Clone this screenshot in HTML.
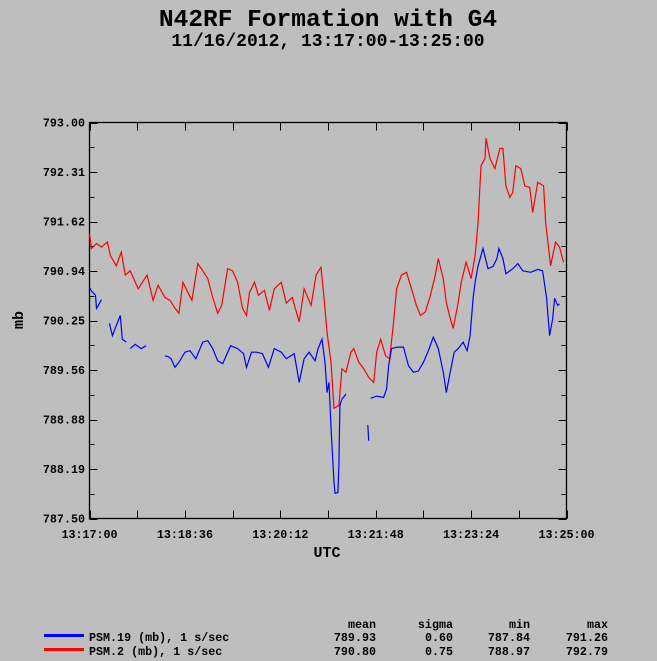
<!DOCTYPE html>
<html><head><meta charset="utf-8"><style>
html,body{margin:0;padding:0;background:#bebebe;}
svg{display:block;}
text{font-family:"Liberation Mono",monospace;font-weight:bold;fill:#000;}
</style></head><body>
<svg id="chart" width="657" height="661" viewBox="0 0 657 661" xmlns="http://www.w3.org/2000/svg">
<rect width="657" height="661" fill="#bebebe"/>
<text x="328" y="26" font-size="24.5" text-anchor="middle">N42RF Formation with G4</text>
<text x="328" y="46" font-size="18" text-anchor="middle">11/16/2012, 13:17:00-13:25:00</text>
<g id="axes"></g>
<g id="series"></g>
<text x="327" y="557" font-size="15" text-anchor="middle">UTC</text>
<text x="0" y="0" font-size="15" text-anchor="middle" transform="translate(23,320) rotate(-90)">mb</text>
<g font-size="11.7">
<text x="376" y="628" text-anchor="end">mean</text>
<text x="453" y="628" text-anchor="end">sigma</text>
<text x="530" y="628" text-anchor="end">min</text>
<text x="608" y="628" text-anchor="end">max</text>
<line x1="44" y1="635.5" x2="84" y2="635.5" stroke="#0000ff" stroke-width="3"/>
<text x="89" y="641">PSM.19 (mb), 1 s/sec</text>
<text x="376" y="641" text-anchor="end">789.93</text>
<text x="453" y="641" text-anchor="end">0.60</text>
<text x="530" y="641" text-anchor="end">787.84</text>
<text x="608" y="641" text-anchor="end">791.26</text>
<line x1="44" y1="649.5" x2="84" y2="649.5" stroke="#ff0000" stroke-width="3"/>
<text x="89" y="655">PSM.2 (mb), 1 s/sec</text>
<text x="376" y="655" text-anchor="end">790.80</text>
<text x="453" y="655" text-anchor="end">0.75</text>
<text x="530" y="655" text-anchor="end">788.97</text>
<text x="608" y="655" text-anchor="end">792.79</text>
</g>
</svg>
<script>
const yTickLabels = ["793.00","792.31","791.62","790.94","790.25","789.56","788.88","788.19","787.50"];
const xTickLabels = ["13:17:00","13:18:36","13:20:12","13:21:48","13:23:24","13:25:00"];
const redTimes = [0,2,7,12,18,21,27,32,36,41,49,58,64,69,76,81,86,90,94,103,109,114,119,124,129,133,139,144,149,154,158,161,166,170,176,181,186,193,198,204,211,216,223,228,233,236,239,243,246,251,254,258,263,266,271,276,281,286,289,293,298,302,306,309,314,319,324,329,333,338,343,348,351,356,359,363,366,371,374,379,384,388,391,394,398,399,403,408,413,416,419,423,426,429,434,438,443,446,451,457,459,464,469,473,477];
const redValues = [791.45,791.25,791.32,791.27,791.34,791.15,791.01,791.20,790.88,790.94,790.69,790.88,790.53,790.74,790.57,790.53,790.42,790.35,790.78,790.53,791.04,790.94,790.83,790.57,790.35,790.46,790.97,790.94,790.78,790.42,790.32,790.64,790.78,790.60,790.67,790.39,790.69,790.78,790.49,790.57,790.23,790.69,790.46,790.88,790.99,790.57,790.09,789.67,789.03,789.07,789.58,789.53,789.81,789.86,789.67,789.58,789.46,789.39,789.81,789.99,789.76,789.72,790.23,790.69,790.88,790.92,790.69,790.46,790.32,790.37,790.60,790.88,791.11,790.83,790.50,790.28,790.14,790.50,790.78,791.06,790.83,791.15,791.62,792.40,792.50,792.78,792.50,792.36,792.64,792.64,792.12,791.96,792.03,792.40,792.36,792.12,792.10,791.75,792.17,792.12,791.62,791.01,791.34,791.27,791.06];
const blueTimes = [0,2,6,7,9,12,null,20,23,27,31,33,37,null,41,46,52,57,null,76,79,82,86,90,96,101,107,114,119,124,129,134,142,149,155,158,163,168,174,180,186,193,198,206,211,216,221,227,230,234,237,239,241,243,246,247,250,251,252,254,256,258,null,280,281,null,283,289,296,299,301,304,310,316,321,326,331,336,341,346,351,356,359,363,367,371,376,380,383,386,388,391,396,401,406,410,412,416,419,426,431,436,444,451,456,460,463,466,468,471,473];
const blueValues = [790.71,790.66,790.60,790.42,790.46,790.54,null,790.21,790.04,790.18,790.32,789.99,789.95,null,789.86,789.92,789.86,789.90,null,789.76,789.75,789.72,789.60,789.67,789.81,789.83,789.72,789.95,789.97,789.86,789.69,789.65,789.90,789.86,789.79,789.60,789.81,789.81,789.79,789.60,789.86,789.81,789.72,789.79,789.39,789.72,789.81,789.69,789.86,789.99,789.67,789.25,789.39,788.77,788.00,787.85,787.86,788.24,789.07,789.16,789.19,789.23,null,788.80,788.58,null,789.17,789.20,789.18,789.30,789.62,789.86,789.88,789.88,789.62,789.53,789.55,789.67,789.83,790.02,789.86,789.53,789.25,789.53,789.81,789.86,789.95,789.83,790.04,790.56,790.78,791.01,791.25,790.97,791.00,791.11,791.25,791.11,790.90,790.97,791.04,790.94,790.92,790.96,790.94,790.56,790.04,790.27,790.56,790.46,790.48];

const L=89.5,R=566.5,T=122.5,B=518.5, YMIN=787.5, YMAX=793.0, TMAX=480;
function xs(t){return L+(R-L)*t/TMAX;}
function ys(v){return B-(B-T)*(v-YMIN)/(YMAX-YMIN);}
const NS="http://www.w3.org/2000/svg";
const axes=document.getElementById('axes');
const series=document.getElementById('series');
function mk(tag,attrs,parent){const e=document.createElementNS(NS,tag);for(const k in attrs)e.setAttribute(k,attrs[k]);parent.appendChild(e);return e;}

const frame=mk('rect',{x:L,y:T,width:R-L,height:B-T,fill:'none',stroke:'#000','stroke-width':1.3},axes);



// y ticks: major every label, minor halfway
const nY=yTickLabels.length-1;
for(let i=0;i<=nY*2;i++){
  const v=YMAX-(YMAX-YMIN)*i/(nY*2);
  const y=Math.round(ys(v))+0.5;
  const len=i%2===0?8:5;
  const t1=mk('line',{x1:L,y1:y,x2:L+len,y2:y,stroke:'#000'},axes);
  
  
  const t2=mk('line',{x1:R-len,y1:y,x2:R,y2:y,stroke:'#000'},axes);
  
  
}
yTickLabels.forEach((s,i)=>{
  const v=YMAX-(YMAX-YMIN)*i/nY;
  const tx=mk('text',{x:85,y:ys(v)+4,'font-size':11.7,'text-anchor':'end'},axes);
  tx.textContent=s;
  
  
});
// x ticks
const nX=xTickLabels.length-1;
for(let i=0;i<=nX*2;i++){
  const x=Math.round(xs(TMAX*i/(nX*2)))+0.5;
  const t1=mk('line',{x1:x,y1:B,x2:x,y2:B-8,stroke:'#000'},axes);
  
  
  const t2=mk('line',{x1:x,y1:T,x2:x,y2:T+8,stroke:'#000'},axes);
  
  
}
xTickLabels.forEach((s,i)=>{
  const tx=mk('text',{x:xs(TMAX*i/nX),y:538,'font-size':11.7,'text-anchor':'middle'},axes);
  tx.textContent=s;
  
  
});

function drawSeries(times,vals,color,name){
  let d='',pen=false;
  for(let i=0;i<times.length;i++){
    if(times[i]===null||vals[i]===null){pen=false;continue;}
    const x=xs(times[i]).toFixed(1),y=ys(vals[i]).toFixed(1);
    d+=(pen?'L':'M')+x+' '+y+' ';pen=true;
  }
  const p=mk('path',{d:d,fill:'none',stroke:color,'stroke-width':1.2,'stroke-linejoin':'miter'},series);
  
  
}
drawSeries(redTimes,redValues,'#ff0000','psm2-line');
drawSeries(blueTimes,blueValues,'#0000ff','psm19-line');
</script>
</body></html>
